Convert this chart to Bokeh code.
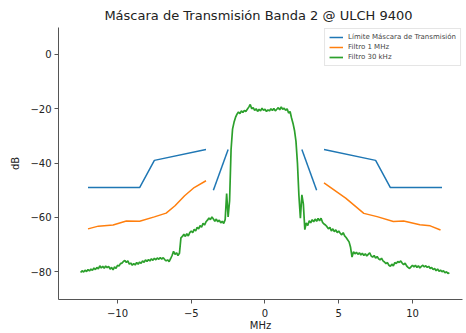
from bokeh.plotting import figure
from bokeh.models import Range1d, FixedTicker, Legend, LegendItem
from bokeh.embed import file_html
from bokeh.resources import INLINE
import numpy as np

TITLE = "Máscara de Transmisión Banda 2 @ ULCH  9400"
series_names = ["Límite Máscara de Transmisión", "Filtro 1 MHz", "Filtro 30 kHz"]

# Transmission mask limit (pieces)
mask_left_mhz = [-12.0, -8.5, -7.5, -4.0]
mask_left_db = [-49.0, -49.0, -39.0, -35.0]
mask_inner_left_mhz = [-3.5, -2.5]
mask_inner_left_db = [-50.0, -35.0]
mask_inner_right_mhz = [2.5, 3.5]
mask_inner_right_db = [-35.0, -50.0]
mask_right_mhz = [4.0, 7.5, 8.5, 12.0]
mask_right_db = [-35.0, -39.0, -49.0, -49.0]

# Filtro 1 MHz
f1_left_mhz = [-12.0, -11.3, -10.3, -9.4, -8.5, -7.5, -6.7, -6.1, -5.45, -4.8, -4.0]
f1_left_db = [-64.2, -63.2, -62.8, -61.3, -61.4, -59.8, -58.4, -55.7, -52.0, -49.0, -46.5]
f1_right_mhz = [4.0, 5.47, 6.7, 7.6, 8.7, 9.4, 10.5, 11.2, 11.9]
f1_right_db = [-47.3, -52.9, -58.5, -59.7, -61.5, -61.3, -62.7, -63.1, -64.6]

# Filtro 30 kHz (sampled every 0.1 MHz from -12.5 to 12.5)
green_start_mhz = -12.5
green_step_mhz = 0.1
green_db = [
    -80.3, -79.6, -80.1, -79.4, -79.9, -79.2,
    -79.7, -79.0, -79.5, -78.6, -79.2, -78.4, -78.9, -77.8, -78.6, -78.0,
    -78.7, -77.9, -78.5, -78.0, -79.0, -78.4, -79.3, -78.2, -78.8, -77.6,
    -77.9, -77.0, -76.8, -76.2, -75.8, -76.6, -76.0, -77.2, -76.8, -77.6,
    -77.0, -77.5, -76.6, -77.2, -76.4, -76.9, -76.0, -76.5, -75.6, -76.2,
    -75.5, -76.0, -75.2, -75.8, -75.0, -75.6, -74.9, -75.4, -74.8, -75.3,
    -74.8, -75.5, -76.0, -75.6, -76.3, -75.2, -74.0, -72.5, -73.6, -73.0,
    -74.0, -73.2, -67.5, -67.0, -66.2, -67.0, -66.0, -66.8, -65.6, -65.0,
    -65.6, -64.4, -65.0, -63.6, -64.2, -63.0, -63.6, -62.2, -62.8, -61.6,
    -61.0, -60.2, -60.8, -59.8, -60.6, -61.4, -60.6, -61.6, -61.0, -62.0,
    -61.4, -62.2, -60.8, -51.2, -59.8, -53.8, -35.0, -27.5, -25.0, -23.2,
    -22.0, -21.2, -21.8, -20.8, -21.4, -20.6, -21.0, -20.2, -19.4, -18.4,
    -20.0, -19.6, -20.6, -20.0, -21.0, -20.2, -20.8, -19.8, -20.6, -20.2,
    -21.0, -20.4, -20.8, -20.0, -20.6, -19.9, -20.8, -20.2, -19.6, -20.4,
    -19.3, -20.2, -19.8, -20.6, -20.0, -21.6, -21.0, -23.4, -25.4, -28.0,
    -32.0, -40.0, -52.0, -60.3, -51.7, -55.0, -64.5, -62.0, -63.0, -61.2,
    -62.0, -60.8, -61.6, -60.6, -61.4, -60.4, -61.2, -60.3, -61.8, -62.4,
    -62.8, -63.4, -64.2, -63.6, -65.0, -64.2, -65.2, -64.6, -65.6, -65.0,
    -65.8, -66.4, -65.6, -66.8, -67.4, -68.2, -69.0, -71.0, -74.6, -72.6,
    -73.4, -72.8, -73.6, -73.0, -73.8, -73.2, -74.0, -73.4, -74.2, -73.6,
    -73.0, -74.2, -74.6, -74.0, -75.0, -74.4, -75.2, -75.6, -75.0, -76.0,
    -76.4, -77.0, -76.6, -77.6, -78.0, -77.2, -77.8, -76.6, -77.0, -76.2,
    -76.6, -76.0, -76.8, -77.4, -76.8, -77.8, -78.4, -78.8, -78.2, -77.6,
    -78.2, -77.6, -78.4, -77.8, -78.6, -78.0, -77.6, -78.2, -77.8, -78.4,
    -78.0, -78.8, -78.4, -79.2, -78.8, -79.6, -79.0, -79.8, -79.4, -80.0,
    -79.6, -80.4, -80.0, -80.6, -80.4,
]
green_mhz = list(np.round(green_start_mhz + green_step_mhz * np.arange(len(green_db)), 2))

x_ticks = [-10, -5, 0, 5, 10]
x_tick_labels = ["\u221210", "\u22125", "0", "5", "10"]
y_ticks = [-80, -60, -40, -20, 0]
y_tick_labels = ["\u221280", "\u221260", "\u221240", "\u221220", "0"]

BLUE = "#1f77b4"
ORANGE = "#ff7f0e"
GREEN = "#2ca02c"
FONT = "DejaVu Sans"

p = figure(width=466, height=333, output_backend="svg", toolbar_location=None,
           x_range=Range1d(-14.0, 13.39), y_range=Range1d(-90.2, 9.9),
           min_border_left=58, min_border_right=4, min_border_top=4, min_border_bottom=2)
p.title.text = TITLE
p.title.align = "center"
p.title.text_font = FONT
p.title.text_font_size = "13px"
p.title.text_font_style = "normal"
p.title.text_color = "#222222"
p.title.offset = 4

r1a = p.line(mask_left_mhz, mask_left_db, color=BLUE, line_width=1.5)
p.line(mask_inner_left_mhz, mask_inner_left_db, color=BLUE, line_width=1.5)
p.line(mask_inner_right_mhz, mask_inner_right_db, color=BLUE, line_width=1.5)
p.line(mask_right_mhz, mask_right_db, color=BLUE, line_width=1.5)
r2a = p.line(f1_left_mhz, f1_left_db, color=ORANGE, line_width=1.5)
p.line(f1_right_mhz, f1_right_db, color=ORANGE, line_width=1.5)
r3 = p.line(green_mhz, green_db, color=GREEN, line_width=1.7)

legend = Legend(items=[LegendItem(label=series_names[0], renderers=[r1a]),
                       LegendItem(label=series_names[1], renderers=[r2a]),
                       LegendItem(label=series_names[2], renderers=[r3])],
                location="top_right")
legend.label_text_font = FONT
legend.label_text_font_size = "7px"
legend.label_height = 8
legend.glyph_height = 8
legend.glyph_width = 14
legend.spacing = 2
legend.padding = 4
legend.margin = 1
legend.label_standoff = 5
legend.border_line_color = "#cccccc"
legend.background_fill_alpha = 0.8
p.add_layout(legend)

p.grid.visible = False
p.outline_line_color = None

for ax in (p.xaxis[0], p.yaxis[0]):
    ax.axis_line_color = "#555555"
    ax.major_tick_line_color = "#555555"
    ax.minor_tick_line_color = None
    ax.major_tick_out = 4
    ax.major_tick_in = 0
    ax.major_label_text_font = FONT
    ax.major_label_text_font_size = "10px"
    ax.major_label_text_color = "#222222"
    ax.axis_label_text_font = FONT
    ax.axis_label_text_font_size = "10px"
    ax.axis_label_text_font_style = "normal"
    ax.axis_label_text_color = "#222222"

p.xaxis.ticker = FixedTicker(ticks=x_ticks)
p.xaxis.major_label_overrides = dict(zip(x_ticks, x_tick_labels))
p.yaxis.ticker = FixedTicker(ticks=y_ticks)
p.yaxis.major_label_overrides = dict(zip(y_ticks, y_tick_labels))
p.xaxis.axis_label = "MHz"
p.yaxis.axis_label = "dB"
p.xaxis.axis_label_standoff = 0
p.yaxis.axis_label_standoff = 6
p.xaxis.major_label_standoff = 5
p.yaxis.major_label_standoff = 3

open("out.html", "w").write(file_html(p, INLINE))
